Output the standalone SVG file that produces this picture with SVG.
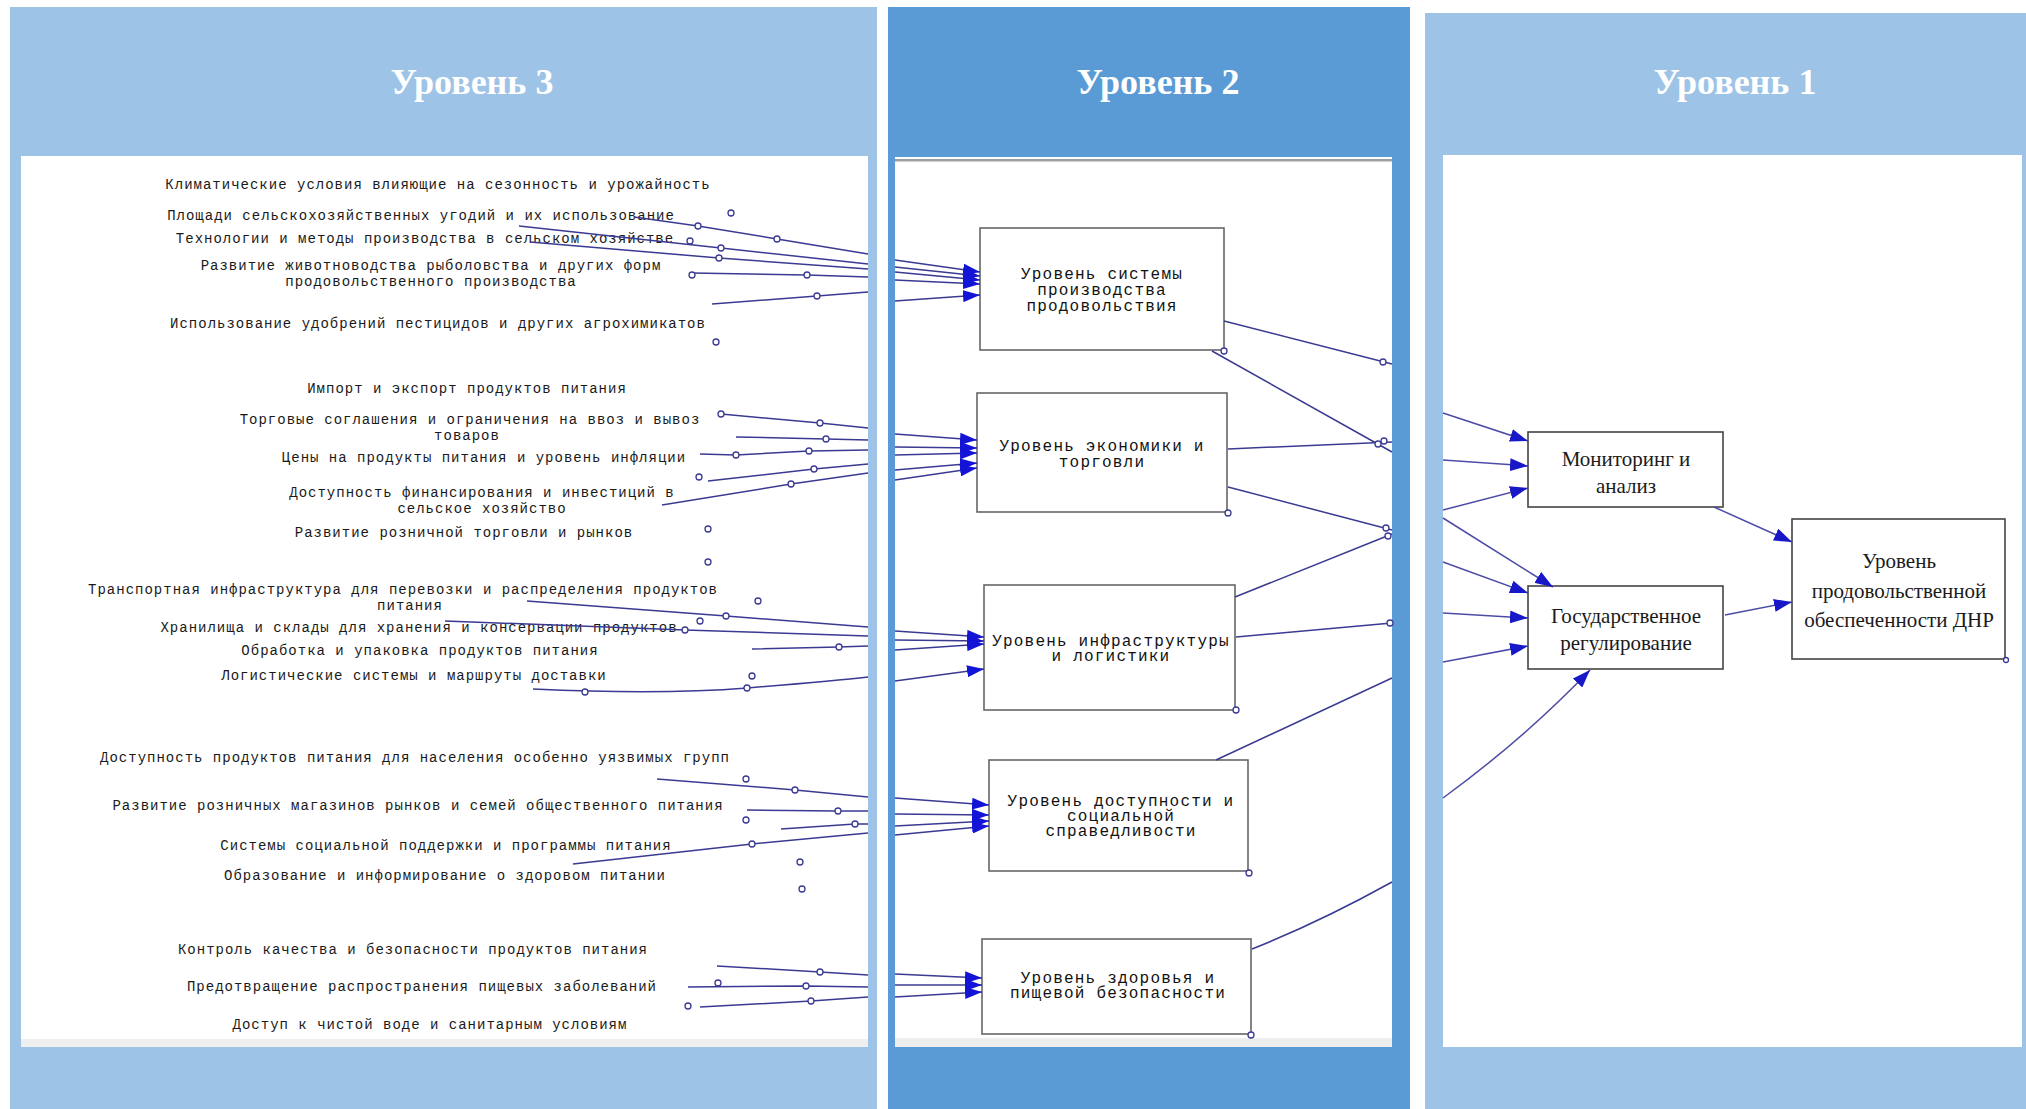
<svg xmlns="http://www.w3.org/2000/svg" width="2026" height="1109" viewBox="0 0 2026 1109">
<defs>
<style>
.pl{fill:#9DC3E6}
.pm{fill:#5B9BD5}
.title{font-family:"Liberation Serif","Times New Roman",serif;font-weight:bold;font-size:36px;fill:#ffffff;text-anchor:middle}
.f3{font-family:"Liberation Mono","DejaVu Sans Mono",monospace;font-size:14px;letter-spacing:1px;fill:#1a1a1a;text-anchor:middle}
.f2{font-family:"Liberation Mono","DejaVu Sans Mono",monospace;font-size:16px;letter-spacing:1.2px;fill:#111;text-anchor:middle}
.f1{font-family:"Liberation Serif","Times New Roman",serif;font-size:21px;fill:#1a1a1a;text-anchor:middle}
.box2{fill:#fff;stroke:#666;stroke-width:1.6}
.box1{fill:#fff;stroke:#444;stroke-width:1.6}
.ln{fill:none;stroke:#3A3A92;stroke-width:1.5}
.ln3{fill:none;stroke:#4C4CA6;stroke-width:1.5}
.c{fill:#fff;stroke:#3A3A92;stroke-width:1.3}
</style>
<marker id="ah" markerUnits="userSpaceOnUse" markerWidth="18" markerHeight="12" refX="17" refY="6" orient="auto">
<path d="M0,0 L17,6 L0,12 Z" fill="#1414D6"/>
</marker>
<marker id="ah3" markerUnits="userSpaceOnUse" markerWidth="19" markerHeight="13" refX="18" refY="6.5" orient="auto">
<path d="M0,0 L18,6.5 L0,13 Z" fill="#1818C8"/>
</marker>
</defs>

<!-- panels -->
<g id="panels">
<rect class="pl" x="10" y="7" width="867" height="1102"/>
<rect x="21" y="156" width="847" height="891" fill="#fff"/>
<rect x="21" y="1039" width="847" height="8" fill="#EFEFEF"/>
<rect class="pm" x="888" y="7" width="522" height="1102"/>
<rect x="895" y="157" width="497" height="890" fill="#fff"/>
<rect x="895" y="159" width="497" height="2.5" fill="#A0A0A0"/>
<rect x="895" y="1038" width="497" height="9" fill="#EEEEEE"/>
<rect class="pl" x="1425" y="13" width="601" height="1096"/>
<rect x="1443" y="155" width="579" height="892" fill="#fff"/>
<text class="title" x="472" y="94">Уровень 3</text>
<text class="title" x="1158" y="94">Уровень 2</text>
<text class="title" x="1735" y="94">Уровень 1</text>
</g>

<!-- level 3 factors -->
<g id="f3-01"><text class="f3" x="438" y="189">Климатические условия влияющие на сезонность и урожайность</text></g>
<g id="f3-02"><text class="f3" x="421" y="220">Площади сельскохозяйственных угодий и их использование</text></g>
<g id="f3-03"><text class="f3" x="425" y="243">Технологии и методы производства в сельском хозяйстве</text></g>
<g id="f3-04"><text class="f3" x="431" y="270">Развитие животноводства рыболовства и других форм</text><text class="f3" x="431" y="286">продовольственного производства</text></g>
<g id="f3-05"><text class="f3" x="438" y="328">Использование удобрений пестицидов и других агрохимикатов</text></g>
<g id="f3-06"><text class="f3" x="467" y="393">Импорт и экспорт продуктов питания</text></g>
<g id="f3-07"><text class="f3" x="470" y="424">Торговые соглашения и ограничения на ввоз и вывоз</text><text class="f3" x="467" y="440">товаров</text></g>
<g id="f3-08"><text class="f3" x="484" y="462">Цены на продукты питания и уровень инфляции</text></g>
<g id="f3-09"><text class="f3" x="482" y="497">Доступность финансирования и инвестиций в</text><text class="f3" x="482" y="513">сельское хозяйство</text></g>
<g id="f3-10"><text class="f3" x="464" y="537">Развитие розничной торговли и рынков</text></g>
<g id="f3-11"><text class="f3" x="403" y="594">Транспортная инфраструктура для перевозки и распределения продуктов</text><text class="f3" x="410" y="610">питания</text></g>
<g id="f3-12"><text class="f3" x="419" y="632">Хранилища и склады для хранения и консервации продуктов</text></g>
<g id="f3-13"><text class="f3" x="420" y="655">Обработка и упаковка продуктов питания</text></g>
<g id="f3-14"><text class="f3" x="414" y="680">Логистические системы и маршруты доставки</text></g>
<g id="f3-15"><text class="f3" x="415" y="762">Доступность продуктов питания для населения особенно уязвимых групп</text></g>
<g id="f3-16"><text class="f3" x="418" y="810">Развитие розничных магазинов рынков и семей общественного питания</text></g>
<g id="f3-17"><text class="f3" x="446" y="850">Системы социальной поддержки и программы питания</text></g>
<g id="f3-18"><text class="f3" x="445" y="880">Образование и информирование о здоровом питании</text></g>
<g id="f3-19"><text class="f3" x="413" y="954">Контроль качества и безопасности продуктов питания</text></g>
<g id="f3-20"><text class="f3" x="422" y="991">Предотвращение распространения пищевых заболеваний</text></g>
<g id="f3-21"><text class="f3" x="430" y="1029">Доступ к чистой воде и санитарным условиям</text></g>

<!-- level 2 nodes -->
<g id="n2-production"><rect class="box2" x="980" y="228" width="244" height="122"/>
<text class="f2" x="1102" y="279">Уровень системы</text><text class="f2" x="1102" y="295">производства</text><text class="f2" x="1102" y="311">продовольствия</text></g>
<g id="n2-economy"><rect class="box2" x="977" y="393" width="250" height="119"/>
<text class="f2" x="1102" y="451">Уровень экономики и</text><text class="f2" x="1102" y="467">торговли</text></g>
<g id="n2-infra"><rect class="box2" x="984" y="585" width="251" height="125"/>
<text class="f2" x="1111" y="646">Уровень инфраструктуры</text><text class="f2" x="1111" y="661">и логистики</text></g>
<g id="n2-access"><rect class="box2" x="989" y="760" width="259" height="111"/>
<text class="f2" x="1121" y="806">Уровень доступности и</text><text class="f2" x="1121" y="821">социальной</text><text class="f2" x="1121" y="836">справедливости</text></g>
<g id="n2-health"><rect class="box2" x="982" y="939" width="269" height="95"/>
<text class="f2" x="1118" y="983">Уровень здоровья и</text><text class="f2" x="1118" y="998">пищевой безопасности</text></g>

<!-- level 1 nodes -->
<g id="n1-monitoring"><rect class="box1" x="1528" y="432" width="195" height="75"/>
<text class="f1" x="1626" y="466">Мониторинг и</text><text class="f1" x="1626" y="493">анализ</text></g>
<g id="n1-regulation"><rect class="box1" x="1528" y="586" width="195" height="83"/>
<text class="f1" x="1626" y="623">Государственное</text><text class="f1" x="1626" y="650">регулирование</text></g>
<g id="n1-result"><rect class="box1" x="1792" y="519" width="213" height="140"/>
<text class="f1" x="1899" y="568">Уровень</text><text class="f1" x="1899" y="598">продовольственной</text><text class="f1" x="1899" y="627">обеспеченности ДНР</text></g>

<!-- connectors -->
<g id="connectors">
<polyline class="ln" points="634,217 698,226 777,239 868,254"/>
<polyline class="ln" points="519,226 721,248 868,264"/>
<polyline class="ln" points="530,242 719,258 868,269"/>
<polyline class="ln" points="692,273 807,275 868,277"/>
<polyline class="ln" points="712,304 817,296 868,292"/>
<polyline class="ln" points="721,414 820,423 868,428"/>
<polyline class="ln" points="736,437 826,439 868,440"/>
<polyline class="ln" points="700,454 736,455 809,451 868,450"/>
<polyline class="ln" points="708,481 814,469 868,464"/>
<polyline class="ln" points="662,505 791,484 868,473"/>
<polyline class="ln" points="527,601 726,616 868,627"/>
<polyline class="ln" points="445,621 685,630 868,636"/>
<polyline class="ln" points="752,649 839,647 868,646"/>
<path class="ln" d="M533,689 Q660,695 747,688 T868,677"/>
<polyline class="ln" points="657,779 795,790 868,797"/>
<polyline class="ln" points="747,810 838,811 868,811"/>
<polyline class="ln" points="781,829 855,824 868,824"/>
<polyline class="ln" points="573,864 752,844 868,833"/>
<polyline class="ln" points="717,966 820,972 868,975"/>
<polyline class="ln" points="688,987 806,986 868,987"/>
<polyline class="ln" points="700,1007 811,1001 868,997"/>

<g id="handles-3">
<circle class="c" cx="731" cy="213" r="3"/><circle class="c" cx="698" cy="226" r="3"/><circle class="c" cx="777" cy="239" r="3"/>
<circle class="c" cx="690" cy="241" r="3"/><circle class="c" cx="721" cy="248" r="3"/><circle class="c" cx="719" cy="258" r="3"/>
<circle class="c" cx="692" cy="275" r="3"/><circle class="c" cx="807" cy="275" r="3"/><circle class="c" cx="817" cy="296" r="3"/>
<circle class="c" cx="716" cy="342" r="3"/>
<circle class="c" cx="721" cy="414" r="3"/><circle class="c" cx="820" cy="423" r="3"/><circle class="c" cx="826" cy="439" r="3"/>
<circle class="c" cx="736" cy="455" r="3"/><circle class="c" cx="809" cy="451" r="3"/><circle class="c" cx="699" cy="477" r="3"/>
<circle class="c" cx="814" cy="469" r="3"/><circle class="c" cx="791" cy="484" r="3"/><circle class="c" cx="708" cy="529" r="3"/>
<circle class="c" cx="708" cy="562" r="3"/>
<circle class="c" cx="758" cy="601" r="3"/><circle class="c" cx="726" cy="616" r="3"/><circle class="c" cx="700" cy="621" r="3"/>
<circle class="c" cx="685" cy="630" r="3"/><circle class="c" cx="839" cy="647" r="3"/><circle class="c" cx="752" cy="676" r="3"/>
<circle class="c" cx="747" cy="688" r="3"/><circle class="c" cx="585" cy="692" r="3"/>
<circle class="c" cx="746" cy="779" r="3"/><circle class="c" cx="795" cy="790" r="3"/><circle class="c" cx="838" cy="811" r="3"/>
<circle class="c" cx="746" cy="820" r="3"/><circle class="c" cx="855" cy="824" r="3"/><circle class="c" cx="752" cy="844" r="3"/>
<circle class="c" cx="800" cy="862" r="3"/><circle class="c" cx="802" cy="889" r="3"/>
<circle class="c" cx="820" cy="972" r="3"/><circle class="c" cx="718" cy="983" r="3"/><circle class="c" cx="806" cy="986" r="3"/>
<circle class="c" cx="688" cy="1006" r="3"/><circle class="c" cx="811" cy="1001" r="3"/>
</g>

<line class="ln" x1="895" y1="260" x2="980" y2="272" marker-end="url(#ah)"/>
<line class="ln" x1="895" y1="267" x2="980" y2="276" marker-end="url(#ah)"/>
<line class="ln" x1="895" y1="272" x2="980" y2="280" marker-end="url(#ah)"/>
<line class="ln" x1="895" y1="280" x2="980" y2="284" marker-end="url(#ah)"/>
<line class="ln" x1="895" y1="301" x2="980" y2="295" marker-end="url(#ah)"/>
<line class="ln" x1="895" y1="434" x2="977" y2="440" marker-end="url(#ah)"/>
<line class="ln" x1="895" y1="447" x2="977" y2="448" marker-end="url(#ah)"/>
<line class="ln" x1="895" y1="455" x2="977" y2="453" marker-end="url(#ah)"/>
<line class="ln" x1="895" y1="470" x2="977" y2="463" marker-end="url(#ah)"/>
<line class="ln" x1="895" y1="480" x2="977" y2="468" marker-end="url(#ah)"/>
<line class="ln" x1="895" y1="631" x2="984" y2="637" marker-end="url(#ah)"/>
<line class="ln" x1="895" y1="640" x2="984" y2="641" marker-end="url(#ah)"/>
<line class="ln" x1="895" y1="650" x2="984" y2="644" marker-end="url(#ah)"/>
<line class="ln" x1="895" y1="681" x2="984" y2="669" marker-end="url(#ah)"/>
<line class="ln" x1="895" y1="798" x2="989" y2="805" marker-end="url(#ah)"/>
<line class="ln" x1="895" y1="814" x2="989" y2="815" marker-end="url(#ah)"/>
<line class="ln" x1="895" y1="826" x2="989" y2="821" marker-end="url(#ah)"/>
<line class="ln" x1="895" y1="835" x2="989" y2="826" marker-end="url(#ah)"/>
<line class="ln" x1="895" y1="974" x2="982" y2="978" marker-end="url(#ah)"/>
<line class="ln" x1="895" y1="985" x2="982" y2="985" marker-end="url(#ah)"/>
<line class="ln" x1="895" y1="997" x2="982" y2="992" marker-end="url(#ah)"/>

<line class="ln" x1="1224" y1="321" x2="1392" y2="364"/>
<line class="ln" x1="1212" y1="351" x2="1392" y2="452"/>
<line class="ln" x1="1228" y1="449" x2="1392" y2="442"/>
<line class="ln" x1="1228" y1="487" x2="1392" y2="530"/>
<line class="ln" x1="1235" y1="597" x2="1392" y2="534"/>
<line class="ln" x1="1236" y1="637" x2="1392" y2="623"/>
<line class="ln" x1="1216" y1="760" x2="1392" y2="678"/>
<path class="ln" d="M1252,949 Q1320,922 1392,882"/>
<g id="handles-2">
<circle class="c" cx="1224" cy="351" r="3"/><circle class="c" cx="1383" cy="362" r="3"/>
<circle class="c" cx="1378" cy="444" r="3"/><circle class="c" cx="1384" cy="441" r="3"/>
<circle class="c" cx="1228" cy="513" r="3"/><circle class="c" cx="1386" cy="528" r="3"/>
<circle class="c" cx="1388" cy="536" r="3"/><circle class="c" cx="1390" cy="623" r="3"/>
<circle class="c" cx="1236" cy="710" r="3"/><circle class="c" cx="1249" cy="873" r="3"/>
<circle class="c" cx="1251" cy="1035" r="3"/>
</g>

<line class="ln3" x1="1443" y1="413" x2="1528" y2="441" marker-end="url(#ah3)"/>
<line class="ln3" x1="1443" y1="460" x2="1528" y2="466" marker-end="url(#ah3)"/>
<line class="ln3" x1="1443" y1="510" x2="1528" y2="488" marker-end="url(#ah3)"/>
<line class="ln3" x1="1443" y1="518" x2="1553" y2="587" marker-end="url(#ah3)"/>
<line class="ln3" x1="1443" y1="562" x2="1528" y2="593" marker-end="url(#ah3)"/>
<line class="ln3" x1="1443" y1="613" x2="1528" y2="618" marker-end="url(#ah3)"/>
<line class="ln3" x1="1443" y1="662" x2="1528" y2="646" marker-end="url(#ah3)"/>
<path class="ln3" d="M1443,798 Q1525,738 1590,670" marker-end="url(#ah3)"/>
<line class="ln3" x1="1714" y1="507" x2="1792" y2="542" marker-end="url(#ah3)"/>
<line class="ln3" x1="1725" y1="615" x2="1792" y2="602" marker-end="url(#ah3)"/>
<circle class="c" cx="2006" cy="660" r="2.5"/>
</g>
</svg>
